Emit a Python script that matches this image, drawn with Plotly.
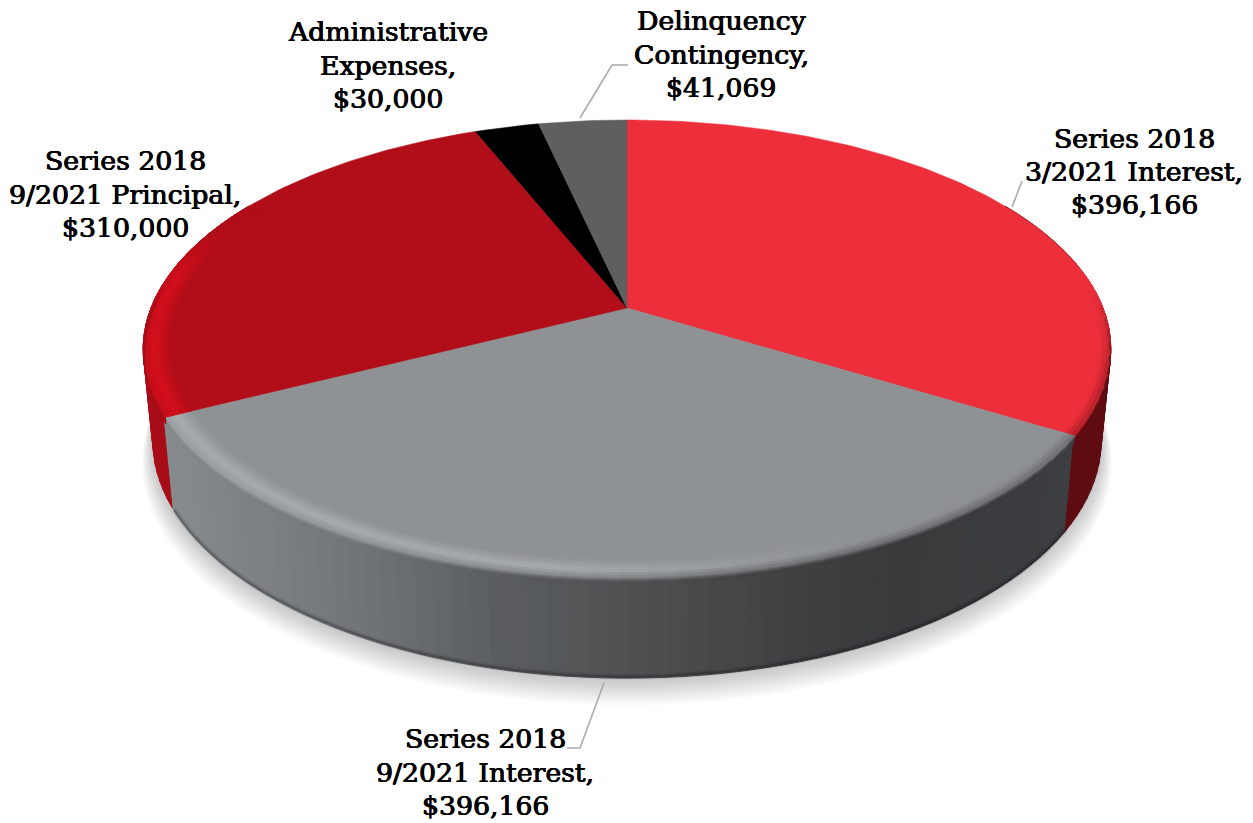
import numpy as np
import plotly.graph_objects as go

# ---- data ----
categories = ["Series 2018 3/2021 Interest", "Series 2018 9/2021 Interest",
              "Series 2018 9/2021 Principal", "Administrative Expenses",
              "Delinquency Contingency"]
values = [396166, 396166, 310000, 30000, 41069]
face_colors = ["#ec2f3b", "#8f9294", "#b10e19", "#000000", "#5f5f5f"]

label_lines = [
    ["Delinquency", "Contingency,", "$41,069"],
    ["Administrative", "Expenses,", "$30,000"],
    ["Series 2018", "9/2021 Principal,", "$310,000"],
    ["Series 2018", "3/2021 Interest,", "$396,166"],
    ["Series 2018", "9/2021 Interest,", "$396,166"],
]
label_x = [721, 388, 125, 1134, 485]
label_y = [[20, 54, 87], [31, 65, 98], [160, 194, 227], [138, 171, 204], [738, 772, 805]]

leader_x = [[580, 612, 628], [1012, 1022], [604, 580, 567]]
leader_y = [[118, 65, 65], [207, 181], [683, 748, 748]]

# ---- projection of the tilted disc ----
CX, CY, P = 627.0, 308.0, 0.179
A, B = 221.7, 476.0
A2, B2, D = 230.0, 466.5, 90.0


def ring(theta, r=1.0, t=0.0):
    th = np.radians(theta)
    X, Y = r * np.sin(th), r * np.cos(th)
    w = 1 + P * Y
    x1, y1 = CX + B * X / w, CY - A * Y / w
    x2, y2 = CX + B2 * X / w, CY + D - A2 * Y / w
    return (1 - t) * x1 + t * x2, (1 - t) * y1 + t * y2


def rgb(h):
    h = h.lstrip("#")
    return np.array([int(h[i:i + 2], 16) for i in (0, 2, 4)], float)


def css(c):
    c = np.clip(c, 0, 255)
    return f"rgb({c[0]:.0f},{c[1]:.0f},{c[2]:.0f})"


def mix(a, b, f):
    return a + (b - a) * f


fig = go.Figure()


def poly(xs, ys, color, lw=1.0):
    fig.add_trace(go.Scatter(x=np.round(xs, 2).tolist(), y=np.round(ys, 2).tolist(),
                             mode="lines", fill="toself", fillcolor=color,
                             line=dict(color=color, width=lw),
                             hoverinfo="skip", showlegend=False))


def band(th0, th1, r0, t0, r1, t1, color, n=3):
    a = np.linspace(th0, th1, n)
    x0, y0 = ring(a, r0, t0)
    x1, y1 = ring(a[::-1], r1, t1)
    poly(np.r_[x0, x1, x0[0]], np.r_[y0, y1, y0[0]], color)


total = sum(values)
edges = np.r_[0, np.cumsum(values)] / total * 360.0
E1, E2 = edges[1], edges[2]

# soft shadow
for i in range(14, 0, -1):
    s = i / 14
    a = np.linspace(0, 360, 181)
    x, y = ring(a, 1 + 0.022 * s, 1.0)
    fig.add_trace(go.Scatter(x=np.round(x, 2).tolist(), y=np.round(y + 20 * s, 2).tolist(),
                             mode="lines", fill="toself", fillcolor="rgba(90,90,90,0.024)",
                             line=dict(width=0), hoverinfo="skip", showlegend=False))

# gray wall colour is a function of screen x
gx = [170, 200, 350, 500, 620, 700, 800, 900, 1070]
gstops = [rgb(c) for c in ["#868a8c", "#838789", "#72767a", "#5a5d60", "#505254",
                           "#47494a", "#3e4041", "#3a3a3d", "#3d3e41"]]


def wall_color(theta):
    if theta < E1:
        return rgb("#5e0c11")
    if theta > E2:
        return rgb("#a80c16")
    x = ring(theta)[0]
    return np.array([np.interp(x, gx, [g[k] for g in gstops]) for k in range(3)])


# walls
step = 2.0
for th in np.arange(60, 300, step):
    mid = th + step / 2
    band(th, th + step, 1, 0, 1, 1, css(wall_color(mid)))

# darker foot of the wall
for w_, al in [(6, 0.07), (3, 0.12), (1.5, 0.18)]:
    a = np.linspace(E1, E2, 121)
    x, y = ring(a, 1, 0.985)
    fig.add_trace(go.Scatter(x=np.round(x, 2).tolist(), y=np.round(y, 2).tolist(), mode="lines",
                             line=dict(color=f"rgba(20,20,22,{al})", width=w_),
                             hoverinfo="skip", showlegend=False))

# top faces
for i, c in enumerate(face_colors):
    a = np.arange(edges[i], edges[i + 1] + 0.5, 1.0)
    a = np.r_[a[a < edges[i + 1]], edges[i + 1]]
    x, y = ring(a)
    poly(np.r_[CX, x, CX], np.r_[CY, y, CY], c, lw=0.5)

# rounded rim
levels = np.linspace(-1, 1, 15)


def pos(s):
    return (1 + 0.055 * s, 0.0) if s < 0 else (1.0, 0.07 * s)


face_r, face_g, face_l = rgb(face_colors[0]), rgb(face_colors[1]), rgb(face_colors[2])
hi_g, hi_l = rgb("#a9acae"), rgb("#d40f1c")


def rim_color(theta, s):
    wall = wall_color(theta)
    if theta < E1:
        f = np.clip((theta - 86) / 20, 0, 1)
        base = face_r
        hi = face_r
        end = mix(face_r, wall, f)
    elif theta > E2:
        f = np.clip((292 - theta) / 14, 0, 1)
        base = face_l
        hi = mix(face_l, hi_l, f)
        end = mix(mix(face_l, hi_l, f), wall, np.clip((282 - theta) / 12, 0, 1))
    else:
        x = ring(theta)[0]
        f = np.clip((880 - x) / 330, 0, 1)
        base = face_g
        hi = mix(face_g, hi_g, f)
        end = wall
    if s <= -0.4:
        return mix(base, hi, (s + 1) / 0.6)
    if s >= 0.6:
        return end
    return mix(hi, end, (s + 0.4) / 1.0)


step = 3.0
ranges = [(80, E1), (E1, E2), (E2, 300)]
for lo, hi in ranges:
    n = max(1, int(round((hi - lo) / step)))
    grid = np.linspace(lo, hi, n + 1)
    for j in range(n):
        mid = (grid[j] + grid[j + 1]) / 2
        for k in range(len(levels) - 1):
            s0, s1 = levels[k], levels[k + 1]
            r0, t0 = pos(s0)
            r1, t1 = pos(s1)
            band(grid[j], grid[j + 1], r0, t0, r1, t1, css(rim_color(mid, (s0 + s1) / 2)))

# leader lines
for lx, ly in zip(leader_x, leader_y):
    fig.add_trace(go.Scatter(x=lx, y=ly, mode="lines", line=dict(color="#ababab", width=1.6),
                             hoverinfo="skip", showlegend=False))

# labels
for lines, cx, ys in zip(label_lines, label_x, label_y):
    for line, yy in zip(lines, ys):
        fig.add_annotation(x=cx, y=yy, text=line, showarrow=False, xanchor="center", yanchor="middle",
                           font=dict(family="DejaVu Serif", size=26.7, color="#000000",
                                     shadow="0.45px 0 0 #000, -0.45px 0 0 #000, 0 0.3px 0 #000"))

fig.update_xaxes(range=[0, 1253], visible=False, fixedrange=True)
fig.update_yaxes(range=[823, 0], visible=False, fixedrange=True)
fig.update_layout(width=1253, height=823, margin=dict(l=0, r=0, t=0, b=0), autosize=False,
                  paper_bgcolor="white", plot_bgcolor="white", showlegend=False)
fig.write_html("out.html", config=dict(displayModeBar=False),
               post_script="document.body.style.margin='0';document.documentElement.style.overflow='hidden';")
